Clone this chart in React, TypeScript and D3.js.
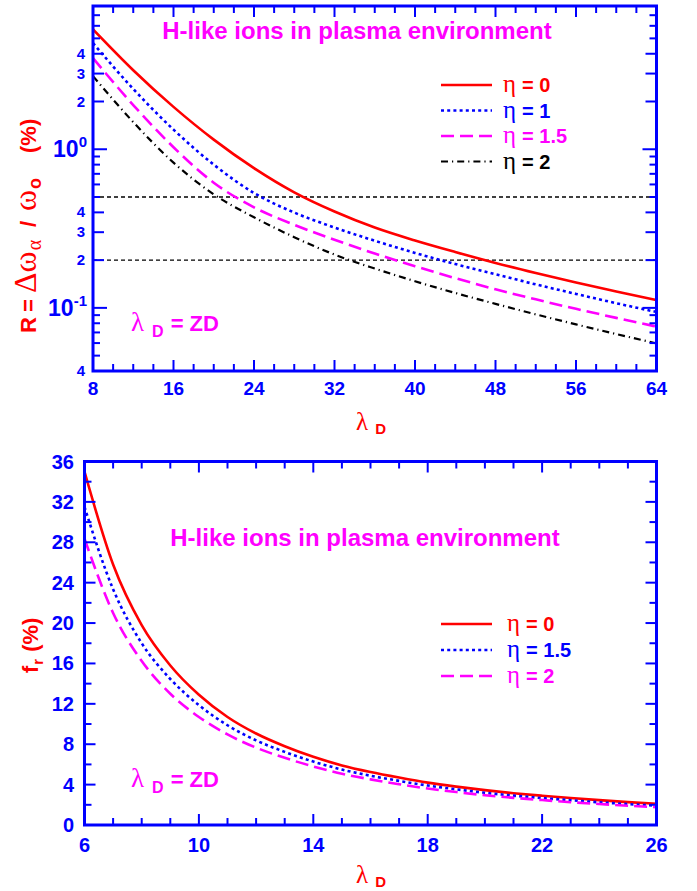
import React from 'react';
import * as d3 from 'd3';

// ---- top panel: R = dw/w (%) vs lambda_D
const lambdaTop = [8, 12, 16, 20, 24, 28, 32, 36, 40, 44, 48, 52, 56, 60, 64];
const rEta0 = [5.7, 3.15, 1.85, 1.15, 0.76, 0.535, 0.405, 0.321, 0.266, 0.225, 0.192, 0.166, 0.1445, 0.127, 0.112];
const rEta1 = [4.67, 2.4, 1.33, 0.8, 0.53, 0.399, 0.321, 0.265, 0.222, 0.189, 0.163, 0.1406, 0.1225, 0.107, 0.0942];
const rEta15 = [3.75, 1.9, 1.03, 0.615, 0.4305, 0.334, 0.269, 0.22, 0.183, 0.154, 0.131, 0.1132, 0.0986, 0.0865, 0.0762];
const rEta2 = [2.89, 1.483, 0.824, 0.52, 0.3724, 0.279, 0.2168, 0.177, 0.1472, 0.1242, 0.106, 0.091, 0.0787, 0.0684, 0.0597];
const refLevels = [0.5, 0.2];
const topXTicks = [8, 16, 24, 32, 40, 48, 56, 64];
const topYLabelValues = [4, 3, 2, 1, 0.4, 0.3, 0.2, 0.1, 0.04];
const topYLabelText = ['4', '3', '2', '10^0', '4', '3', '2', '10^-1', '4'];
const topLegend = ['0', '1', '1.5', '2'];

// ---- bottom panel: f_r (%) vs lambda_D
const lambdaBottom = [6, 7, 8, 9, 10, 11, 12, 13, 14, 15, 16, 17, 18, 19, 20, 21, 22, 23, 24, 25, 26];
const frEta0 = [35, 25.8, 19.8, 15.8, 12.9, 10.7, 9.06, 7.8, 6.75, 5.9, 5.25, 4.7, 4.2, 3.8, 3.45, 3.15, 2.9, 2.67, 2.46, 2.27, 2.1];
const frEta15 = [31.5, 23.35, 18.0, 14.46, 11.87, 9.88, 8.38, 7.24, 6.28, 5.49, 4.88, 4.37, 3.91, 3.53, 3.19, 2.91, 2.67, 2.45, 2.25, 2.07, 1.91];
const frEta2 = [28.35, 21.0, 16.24, 13.0, 10.7, 8.97, 7.66, 6.65, 5.8, 5.07, 4.52, 4.04, 3.61, 3.26, 2.95, 2.69, 2.47, 2.26, 2.08, 1.91, 1.76];
const bottomXTicks = [6, 10, 14, 18, 22, 26];
const bottomYTicks = [0, 4, 8, 12, 16, 20, 24, 28, 32, 36];
const bottomLegend = ['0', '1.5', '2'];

const BLUE = '#0000ff';
const RED = '#ff0000';
const MAG = '#ff00ff';
const BLACK = '#000000';
const SANS = '"Liberation Sans", Arial, Helvetica, sans-serif';
const SERIF = '"Liberation Serif", "Times New Roman", serif';

const styles = [
  { color: RED, dash: null, width: 2.6 },
  { color: BLUE, dash: '3,3.2', width: 2.6 },
  { color: MAG, dash: '13,6', width: 2.6 },
  { color: BLACK, dash: '7,4,1.2,4', width: 2.2 },
];
const bottomStyles = [styles[0], styles[1], styles[2]];

function Frame({ x0, x1, y0, y1 }) {
  return <rect x={x0} y={y0} width={x1 - x0} height={y1 - y0} fill="none" stroke={BLUE} strokeWidth={3} />;
}

function XTicks({ ticks, x, y0, y1 }) {
  // inward ticks, mirrored on top
  return (
    <g stroke={BLUE} strokeWidth={2}>
      {ticks.map((t, i) => (
        <g key={i}>
          <line x1={x(t.v)} x2={x(t.v)} y1={y1} y2={y1 - t.len} />
          <line x1={x(t.v)} x2={x(t.v)} y1={y0} y2={y0 + t.len} />
        </g>
      ))}
    </g>
  );
}

function YTicks({ ticks, y, x0, x1 }) {
  return (
    <g stroke={BLUE} strokeWidth={2}>
      {ticks.map((t, i) => (
        <g key={i}>
          <line x1={x0} x2={x0 + t.len} y1={y(t.v)} y2={y(t.v)} />
          <line x1={x1} x2={x1 - t.len} y1={y(t.v)} y2={y(t.v)} />
        </g>
      ))}
    </g>
  );
}

function LegendRow({ x, y, st, label, tx }) {
  return (
    <g>
      <line x1={x} x2={x + 51} y1={y} y2={y} stroke={st.color} strokeWidth={st.width}
        strokeDasharray={st.dash || undefined} />
      <text x={tx} y={y + 7} fill={st.color}>
        <tspan fontFamily={SERIF} fontSize={25}>η</tspan>
        <tspan fontFamily={SANS} fontWeight="bold" fontSize={20} dx={6}>= {label}</tspan>
      </text>
    </g>
  );
}

function LambdaZD({ x, y }) {
  return (
    <text x={x} y={y} fill={MAG}>
      <tspan fontFamily={SERIF} fontSize={27}>λ</tspan>
      <tspan fontFamily={SANS} fontWeight="bold" fontSize={16} dx={8} dy={6}>D</tspan>
      <tspan fontFamily={SANS} fontWeight="bold" fontSize={22} dx={7} dy={-6}>= ZD</tspan>
    </text>
  );
}

function XLabel({ x, y }) {
  return (
    <text x={x} y={y} fill={RED}>
      <tspan fontFamily={SERIF} fontSize={25}>λ</tspan>
      <tspan fontFamily={SANS} fontWeight="bold" fontSize={15} dx={7} dy={4}>D</tspan>
    </text>
  );
}

function TopPanel() {
  const x0 = 93, x1 = 656.5, y0 = 6, y1 = 371;
  const x = d3.scaleLinear().domain([8, 64]).range([x0, x1]);
  const y = d3.scaleLog().domain([0.04, 8]).range([y1, y0]);
  const series = [rEta0, rEta1, rEta15, rEta2];
  const line = d3.line<number>().x((d, i) => x(lambdaTop[i])).y((d) => y(d)).curve(d3.curveMonotoneX);

  const xt = d3.range(8, 64.01, 2).map((v) => ({ v, len: (v - 8) % 8 === 0 ? 11 : 7 }));
  const yt = [];
  [0.01, 0.1, 1].forEach((dec) => {
    for (let k = 1; k <= 9; k++) {
      const v = k * dec;
      if (v >= 0.04 - 1e-9 && v <= 8 + 1e-9) yt.push({ v, len: k === 1 ? 14 : k <= 4 ? 11 : 7 });
    }
  });

  return (
    <g>
      <defs>
        <clipPath id="clipTop"><rect x={x0} y={y0} width={x1 - x0} height={y1 - y0} /></clipPath>
      </defs>
      {refLevels.map((v, i) => (
        <line key={i} x1={x0} x2={x1} y1={y(v)} y2={y(v)} stroke={BLACK} strokeWidth={1.3} strokeDasharray="4,3" />
      ))}
      <g clipPath="url(#clipTop)">
        {series.map((s, i) => (
          <path key={i} d={line(s)} fill="none" stroke={styles[i].color} strokeWidth={styles[i].width}
            strokeDasharray={styles[i].dash || undefined} />
        ))}
      </g>
      <XTicks ticks={xt} x={x} y0={y0} y1={y1} />
      <YTicks ticks={yt} y={y} x0={x0} x1={x1} />
      <Frame x0={x0} x1={x1} y0={y0} y1={y1} />

      <g fill={BLUE} fontFamily={SANS} fontWeight="bold">
        {topXTicks.map((v) => (
          <text key={v} x={x(v)} y={395} fontSize={19} textAnchor="middle">{v}</text>
        ))}
        {topYLabelValues.map((v, i) => {
          const t = topYLabelText[i];
          if (t.startsWith('10^')) {
            const exp = t.slice(3);
            return (
              <text key={i} x={87} y={y(v) + 8} textAnchor="end">
                <tspan fontSize={23}>10</tspan>
                <tspan fontSize={15} dy={-10}>{exp}</tspan>
              </text>
            );
          }
          return <text key={i} x={85} y={y(v) + 5} fontSize={15} textAnchor="end">{t}</text>;
        })}
      </g>

      <text x={357} y={39} textAnchor="middle" fill={MAG} fontFamily={SANS} fontWeight="bold" fontSize={24}>
        H-like ions in plasma environment
      </text>

      {topLegend.map((l, i) => (
        <LegendRow key={i} x={441} tx={503} y={85 + i * 25.5} st={styles[i]} label={l} />
      ))}

      <LambdaZD x={131} y={331} />
      <XLabel x={356} y={430} />

      {/* rotated axis title; local x runs upward from screen y = 333 */}
      <g transform="translate(36,333) rotate(-90)" fill={RED}>
        <text y={0}>
          <tspan x={0} fontFamily={SANS} fontWeight="bold" fontSize={22}>R</tspan>
          <tspan x={21} fontFamily={SANS} fontWeight="bold" fontSize={22}>=</tspan>
          <tspan x={40} fontFamily={SERIF} fontSize={32}>Δω</tspan>
          <tspan fontFamily={SERIF} fontSize={20} dy={5} dx={1}>α</tspan>
          <tspan x={106} dy={-5} fontFamily={SANS} fontWeight="bold" fontSize={22}>/</tspan>
          <tspan x={122} fontFamily={SERIF} fontSize={32}>ω</tspan>
          <tspan fontFamily={SANS} fontWeight="bold" fontSize={18} dy={5} dx={1}>o</tspan>
          <tspan x={180} dy={-5} fontFamily={SANS} fontWeight="bold" fontSize={22}>(%)</tspan>
        </text>
      </g>
    </g>
  );
}

function BottomPanel() {
  const x0 = 84.5, x1 = 656.5, y0 = 461.5, y1 = 825;
  const x = d3.scaleLinear().domain([6, 26]).range([x0, x1]);
  const y = d3.scaleLinear().domain([0, 36]).range([y1, y0]);
  const series = [frEta0, frEta15, frEta2];
  const line = d3.line<number>().x((d, i) => x(lambdaBottom[i])).y((d) => y(d)).curve(d3.curveMonotoneX);

  const xt = d3.range(6, 26.01, 1).map((v) => ({ v, len: (v - 6) % 4 === 0 ? 11 : 7 }));
  const yt = d3.range(0, 36.01, 2).map((v) => ({ v, len: v % 4 === 0 ? 11 : 7 }));

  return (
    <g>
      <defs>
        <clipPath id="clipBottom"><rect x={x0} y={y0} width={x1 - x0} height={y1 - y0} /></clipPath>
      </defs>
      <g clipPath="url(#clipBottom)">
        {series.map((s, i) => (
          <path key={i} d={line(s)} fill="none" stroke={bottomStyles[i].color} strokeWidth={bottomStyles[i].width}
            strokeDasharray={bottomStyles[i].dash || undefined} />
        ))}
      </g>
      <XTicks ticks={xt} x={x} y0={y0} y1={y1} />
      <YTicks ticks={yt} y={y} x0={x0} x1={x1} />
      <Frame x0={x0} x1={x1} y0={y0} y1={y1} />

      <g fill={BLUE} fontFamily={SANS} fontWeight="bold" fontSize={20}>
        {bottomXTicks.map((v) => (
          <text key={v} x={x(v)} y={852} textAnchor="middle">{v}</text>
        ))}
        {bottomYTicks.map((v) => (
          <text key={v} x={74} y={y(v) + 7} textAnchor="end">{v}</text>
        ))}
      </g>

      <text x={365} y={546} textAnchor="middle" fill={MAG} fontFamily={SANS} fontWeight="bold" fontSize={24}>
        H-like ions in plasma environment
      </text>

      {bottomLegend.map((l, i) => (
        <LegendRow key={i} x={441} tx={507} y={624 + i * 26} st={bottomStyles[i]} label={l} />
      ))}

      <LambdaZD x={131} y={787} />
      <XLabel x={356} y={883} />

      <g transform="translate(38,673) rotate(-90)" fill={RED}>
        <text x={0} y={0} fontFamily={SANS} fontWeight="bold">
          <tspan fontSize={22}>f</tspan>
          <tspan fontSize={15} dy={5} dx={1}>r</tspan>
          <tspan fontSize={22} dy={-5} dx={7}>(%)</tspan>
        </text>
      </g>
    </g>
  );
}

export default function App() {
  return (
    <svg width={697} height={891} style={{ position: 'absolute', left: 0, top: 0, background: '#fff' }}>
      <rect width={697} height={891} fill="#fff" />
      <TopPanel />
      <BottomPanel />
    </svg>
  );
}
